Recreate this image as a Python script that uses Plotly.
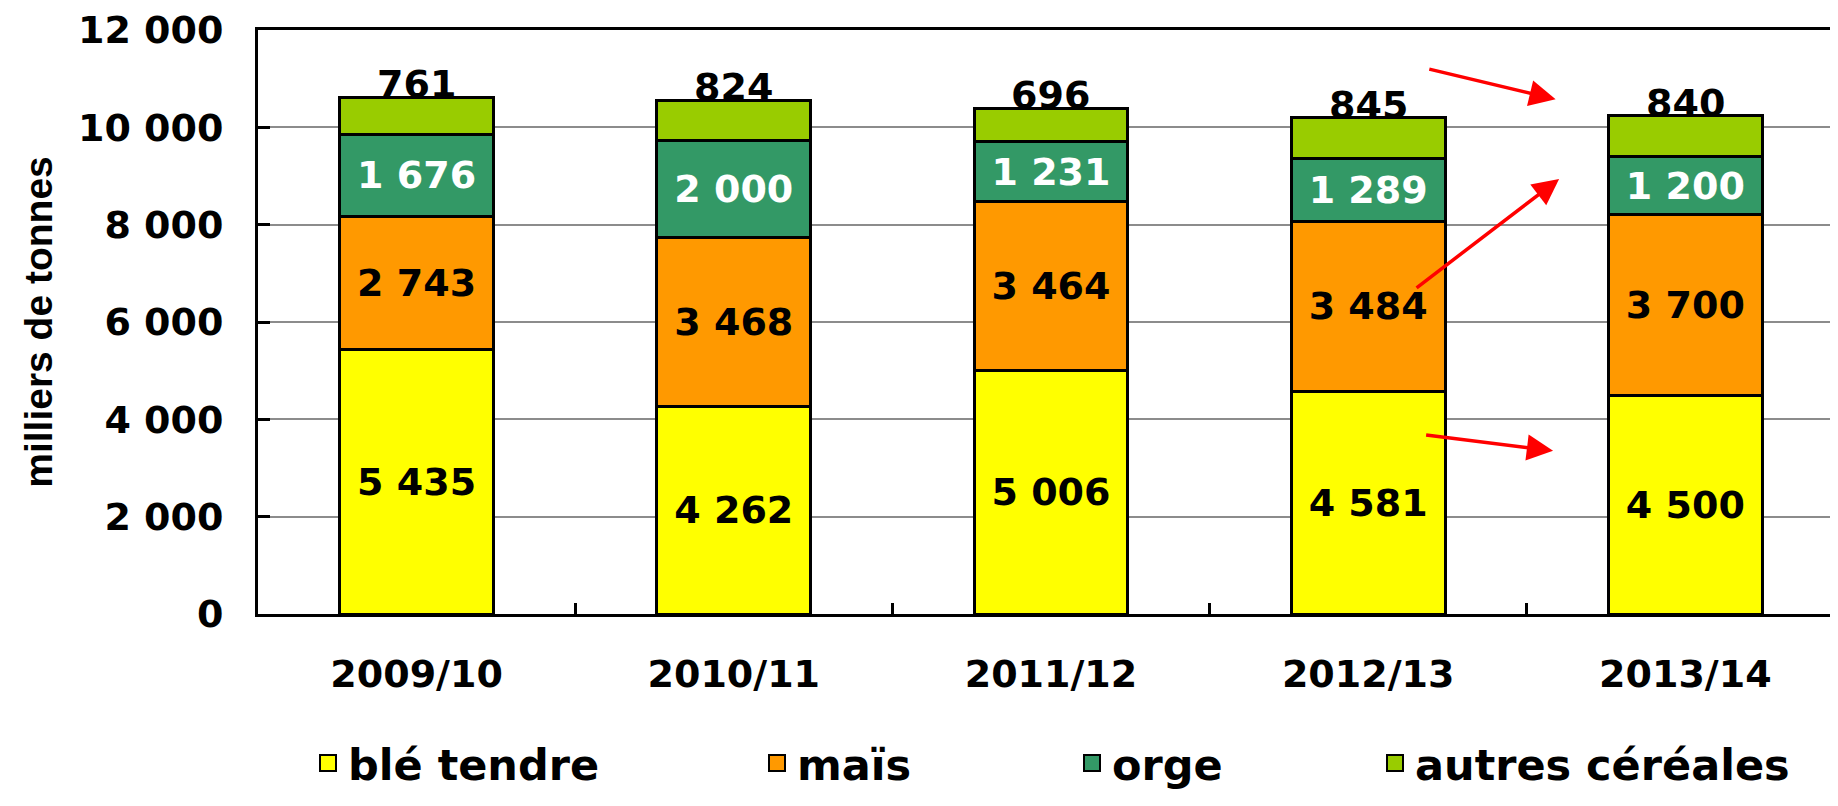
import plotly.graph_objects as go

campagnes = ["2009/10", "2010/11", "2011/12", "2012/13", "2013/14"]
ble_tendre = [5435, 4262, 5006, 4581, 4500]
mais = [2743, 3468, 3464, 3484, 3700]
orge = [1676, 2000, 1231, 1289, 1200]
autres_cereales = [761, 824, 696, 845, 840]

series_names = ["blé tendre", "maïs", "orge", "autres céréales"]
series_values = [ble_tendre, mais, orge, autres_cereales]
series_colors = ["#FFFF00", "#FF9900", "#339966", "#99CC00"]
label_colors = ["black", "black", "white", None]

y_ticks = [0, 2000, 4000, 6000, 8000, 10000, 12000]

# red arrows (tail -> head), in category index / data units
arrows = [
    ((3.188, 11203), (3.591, 10575)),
    ((3.148, 6679), (3.602, 8940)),
    ((3.178, 3680), (3.583, 3353)),
]

# the page body has an 8px margin: figure is sized so page = 1838x806
W, H = 1822, 790
# legend left positions (figure px)
legend_x_px = [300, 749, 1064, 1367]
FONT = "DejaVu Sans"


def fmt(v):
    return f"{v:,}".replace(",", " ")


fig = go.Figure()
for i, (name, vals, col) in enumerate(zip(series_names, series_values, series_colors)):
    has_label = label_colors[i] is not None
    fig.add_trace(go.Bar(
        x=campagnes, y=vals, name=name,
        marker=dict(color=col, line=dict(color="black", width=3)),
        text=[fmt(v) for v in vals] if has_label else None,
        textposition="inside" if has_label else "none",
        insidetextanchor="middle",
        constraintext="none",
        textfont=dict(family=FONT, size=38, color=label_colors[i] or "black", weight="bold"),
        showlegend=False,
        hoverinfo="x+y+name",
    ))
    lg = "legend" if i == 0 else f"legend{i + 1}"
    fig.add_trace(go.Scatter(
        x=[None], y=[None], mode="markers", name=name,
        marker=dict(symbol="square", size=16, color=col, line=dict(color="black", width=2)),
        legend=lg, showlegend=True,
    ))

totals = [sum(v) for v in zip(*series_values)]
for c, t, top in zip(campagnes, totals, autres_cereales):
    fig.add_annotation(
        x=c, y=t, text=fmt(top), showarrow=False, yanchor="bottom", yshift=-11,
        font=dict(family=FONT, size=38, color="black", weight="bold"),
    )

for (x0, y0), (x1, y1) in arrows:
    fig.add_annotation(
        x=x1, y=y1, ax=x0, ay=y0, xref="x", yref="y", axref="x", ayref="y",
        text="", showarrow=True, arrowhead=2, arrowsize=1.5, arrowwidth=3.5,
        arrowcolor="#FF0000",
    )

legend_common = dict(
    orientation="h", xref="container", yref="container", xanchor="left", yanchor="middle",
    y=1 - 755 / H, bgcolor="rgba(0,0,0,0)", borderwidth=0,
    font=dict(family=FONT, size=43, color="black", weight="bold"),
)
layout_legends = {}
for i, px in enumerate(legend_x_px):
    key = "legend" if i == 0 else f"legend{i + 1}"
    layout_legends[key] = dict(legend_common, x=px / W)

fig.update_layout(
    width=W, height=H,
    margin=dict(l=250, r=0, t=19, b=184, pad=0),
    paper_bgcolor="white", plot_bgcolor="white",
    barmode="stack", bargap=0.515,
    separators=", ",
    font=dict(family=FONT, color="black"),
    **layout_legends,
)

fig.update_xaxes(
    type="category", range=[-0.5, 4.456],
    showline=True, linecolor="black", linewidth=3, mirror=True,
    ticks="inside", tickson="boundaries", ticklen=11, tickwidth=2.5, tickcolor="black",
    tickfont=dict(family=FONT, size=38, color="black", weight="bold"),
    ticklabelstandoff=24, ticklabeloverflow="allow",
    showgrid=False,
)
fig.update_yaxes(
    range=[0, 12000], tickvals=y_ticks, tickformat=",d",
    showline=True, linecolor="black", linewidth=3,
    ticks="inside", ticklen=12, tickwidth=3, tickcolor="black",
    tickfont=dict(family=FONT, size=38, color="black", weight="bold"),
    ticklabelstandoff=24, ticklabeloverflow="allow",
    showgrid=True, gridcolor="#8C8C8C", gridwidth=2,
    zeroline=False,
    title=dict(text="milliers de tonnes", standoff=14,
               font=dict(family="Liberation Sans", size=39, color="black", weight="bold")),
)

fig.write_html("out.html")
